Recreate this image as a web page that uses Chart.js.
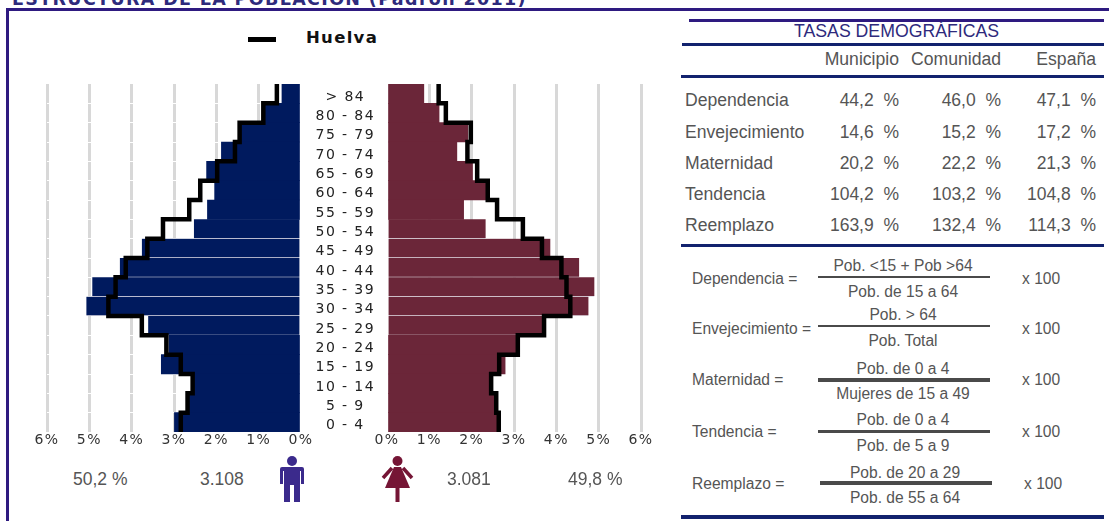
<!DOCTYPE html>
<html>
<head>
<meta charset="utf-8">
<script src="https://cdn.jsdelivr.net/npm/chart.js@4"></script>
<style>
  html, body { margin: 0; padding: 0; background: #fff; }
  #page { position: relative; width: 1109px; height: 521px; overflow: hidden; font-family: "Liberation Sans", Arial, sans-serif; color: #555; }
  #page div, #page svg, #page canvas { position: absolute; }
  .t { white-space: pre; line-height: 20px; height: 20px; }
  .r { text-align: right; }
  .c { text-align: center; }
</style>
</head>
<body>
<div id="page">
  <div class="t" style="left:12px;top:-11px;font:bold 17.5px 'DejaVu Sans';letter-spacing:1.35px;color:#2e2a7c;line-height:20px">ESTRUCTURA DE LA POBLACIÓN (Padrón 2011)</div>
  <div style="left:6px;top:8px;width:1103px;height:3px;background:#2e1a80"></div>
  <div style="left:6px;top:8px;width:3px;height:513px;background:#2e1a80"></div>

  <div style="left:248px;top:37px;width:28px;height:5px;background:#000"></div>
  <div class="t" style="left:306px;top:28px;font:bold 16.5px 'DejaVu Sans';letter-spacing:1.3px;color:#111;line-height:20px">Huelva</div>

  <div style="left:30px;top:64px;width:357px;height:388px"><canvas id="maleChart"></canvas></div>
  <div style="left:370px;top:64px;width:291px;height:388px"><canvas id="femaleChart"></canvas></div>

  <div class="t" style="left:73px;top:469px;font-size:17.5px">50,2 %</div>
  <div class="t" style="left:200px;top:469px;font-size:17.5px">3.108</div>
  <svg style="left:279px;top:456px" width="26" height="46" viewBox="0 0 26 46">
    <circle cx="13" cy="5" r="5" fill="#3b2a8c"/>
    <path d="M3 11h20a2 2 0 0 1 2 2v15h-3V15h-1v31h-6V29h-4v17H5V15H4v13H1V13a2 2 0 0 1 2-2z" fill="#3b2a8c"/>
  </svg>
  <svg style="left:381px;top:456px" width="34" height="46" viewBox="0 0 34 46">
    <circle cx="16.5" cy="5" r="5" fill="#751535"/>
    <path d="M11 12L2 22M22 12L31 22" stroke="#751535" stroke-width="3.5" fill="none"/>
    <path d="M13 11h7l9 21H4z" fill="#751535"/>
    <rect x="14.5" y="32" width="4" height="14" fill="#751535"/>
  </svg>
  <div class="t" style="left:447px;top:469px;font-size:17.5px">3.081</div>
  <div class="t" style="left:568px;top:469px;font-size:17.5px">49,8 %</div>

  <div style="left:689px;top:19px;width:415px;height:3px;background:#2e1a80"></div>
  <div style="left:682px;top:43px;width:422px;height:3px;background:#12226e"></div>
  <div style="left:681px;top:75px;width:423px;height:3px;background:#12226e"></div>
  <div style="left:681px;top:244px;width:423px;height:3px;background:#12226e"></div>
  <div style="left:681px;top:515px;width:423px;height:4px;background:#12226e"></div>
  <div class="t c" style="left:794px;width:200px;top:21px;font-size:17.7px;color:#2e2a7c">TASAS DEMOGRÁFICAS</div>
  <div id="rates"></div>
  <div id="formulas"></div>
</div>

<script>
const ageGroups = ["> 84", "80 - 84", "75 - 79", "70 - 74", "65 - 69", "60 - 64", "55 - 59", "50 - 54", "45 - 49",
    "40 - 44", "35 - 39", "30 - 34", "25 - 29", "20 - 24", "15 - 19", "10 - 14", "5 - 9", "0 - 4"];
const maleValues = [0.45, 0.86, 1.41, 1.88, 2.23, 2.04, 2.21, 2.53, 3.76, 4.28, 4.93, 5.07, 3.61, 3.12, 3.30, 2.55, 2.67, 2.99];
const femaleValues = [0.87, 1.23, 1.91, 1.65, 2.02, 2.34, 1.81, 2.33, 3.86, 4.54, 4.90, 4.76, 3.67, 3.06, 2.79, 2.44, 2.56, 2.60];
const huelvaMale = [0.57, 0.89, 1.45, 1.56, 1.98, 2.38, 2.64, 3.26, 3.63, 4.14, 4.38, 4.55, 3.76, 3.18, 2.84, 2.56, 2.68, 2.84];
const huelvaFemale = [1.22, 1.39, 1.98, 1.90, 2.13, 2.38, 2.60, 3.21, 3.66, 4.12, 4.24, 4.33, 3.71, 3.09, 2.65, 2.46, 2.58, 2.64];

const rateColumns = ["Municipio", "Comunidad", "España"];
const rateNames = ["Dependencia", "Envejecimiento", "Maternidad", "Tendencia", "Reemplazo"];
const rateMunicipio = ["44,2", "14,6", "20,2", "104,2", "163,9"];
const rateComunidad = ["46,0", "15,2", "22,2", "103,2", "132,4"];
const rateEspana = ["47,1", "17,2", "21,3", "104,8", "114,3"];

const formulaNames = ["Dependencia =", "Envejecimiento =", "Maternidad =", "Tendencia =", "Reemplazo ="];
const formulaTop = ["Pob. <15 + Pob >64", "Pob. > 64", "Pob. de 0 a 4", "Pob. de 0 a 4", "Pob. de 20 a 29"];
const formulaBottom = ["Pob. de 15 a 64", "Pob. Total", "Mujeres de 15 a 49", "Pob. de 5 a 9", "Pob. de 55 a 64"];

function addText(parent, text, css, cls) {
    const el = document.createElement("div");
    el.className = "t " + (cls || "");
    el.style.cssText = css;
    el.textContent = text;
    parent.appendChild(el);
}

// table on the right
const rates = document.getElementById("rates");
const colRight = [899, 1001, 1096];
colRight.forEach((right, i) => {
    addText(rates, rateColumns[i], `left:${right - 150}px;width:150px;top:49px;font-size:17.6px`, "r");
});
const rowY = [90, 122, 153, 184, 215];
rateNames.forEach((name, i) => {
    addText(rates, name, `left:685px;top:${rowY[i]}px;font-size:17.6px`);
    [rateMunicipio, rateComunidad, rateEspana].forEach((col, j) => {
        addText(rates, col[i] + "  %", `left:${colRight[j] - 120}px;width:120px;top:${rowY[i]}px;font-size:17.5px`, "r");
    });
});

// formulas
const formulas = document.getElementById("formulas");
const numY = [266, 315, 369, 420, 473];
const barY = [276, 325, 378, 430, 481];
const denY = [292, 341, 394, 446, 498];
const labelY = [279, 329, 380, 432, 484];
const barH = [2, 2, 4, 3, 4];
formulaNames.forEach((name, i) => {
    const dx = i === 4 ? 2 : 0;
    addText(formulas, name, `left:692px;top:${labelY[i] - 10}px;font-size:15.6px`);
    addText(formulas, formulaTop[i], `left:${803 + dx}px;width:200px;top:${numY[i] - 10}px;font-size:15.6px`, "c");
    addText(formulas, formulaBottom[i], `left:${803 + dx}px;width:200px;top:${denY[i] - 10}px;font-size:15.6px`, "c");
    addText(formulas, "x 100", `left:${1022 + dx}px;top:${labelY[i] - 10}px;font-size:15.6px`);
    const bar = document.createElement("div");
    bar.style.cssText = `left:${818 + dx}px;top:${barY[i]}px;width:172px;height:${barH[i]}px;background:#4a4a4a`;
    formulas.appendChild(bar);
});

// each value becomes a vertical run across its age band
function stepPoints(values) {
    const pts = [];
    values.forEach((v, i) => {
        pts.push({ x: v, y: i });
        pts.push({ x: v, y: i + 1 });
    });
    return pts;
}

const letterSpacing = {
    id: "letterSpacing",
    beforeDraw(chart) { chart.ctx.letterSpacing = "1.4px"; }
};

function pyramid(canvasId, values, huelva, color, isLeft) {
    return new Chart(document.getElementById(canvasId), {
        type: "bar",
        data: {
            labels: ageGroups,
            datasets: [{
                type: "line",
                indexAxis: "y",
                data: stepPoints(huelva),
                yAxisID: "yStep",
                borderColor: "#000",
                borderWidth: 4.5,
                borderJoinStyle: "miter",
                pointRadius: 0,
                order: 0
            }, {
                type: "bar",
                indexAxis: "y",
                data: values,
                yAxisID: "y",
                backgroundColor: color,
                borderColor: "#e4e2ea",
                borderSkipped: false,
                // pale rule under the wide bars only
                borderWidth: ctx => (ctx.dataIndex >= 7 && ctx.dataIndex <= 12 ? { top: 0, right: 0, bottom: 1, left: 0 } : 0),
                barPercentage: 1,
                categoryPercentage: 1,
                order: 1
            }]
        },
        plugins: [letterSpacing],
        options: {
            // horizontal is set per dataset: with 4.5 a chart level "y" splits the bars
            // into one slot for each y axis, and the line needs its own y axis
            indexAxis: "x",
            responsive: true,
            maintainAspectRatio: false,
            animation: false,
            layout: { padding: isLeft ? { left: 17, top: 20, bottom: 0 } : { left: 17, right: 20, top: 20, bottom: 0 } },
            plugins: { legend: { display: false }, tooltip: { enabled: false } },
            scales: {
                x: {
                    type: "linear",
                    offset: false,
                    reverse: isLeft,
                    min: 0,
                    max: 6,
                    border: { display: false },
                    grid: {
                        color: ctx => (ctx.tick.value === 0 ? "rgba(0,0,0,0)" : "#d8d8d8"),
                        lineWidth: 3,
                        drawTicks: false,
                        offset: false,
                        z: -2
                    },
                    ticks: {
                        stepSize: 1,
                        padding: 0,
                        color: "#333",
                        maxRotation: 0,
                        font: { family: "DejaVu Sans", size: 14 },
                        callback: v => v + "%"
                    },
                    afterFit(s) { s.paddingLeft = 0; s.paddingRight = 0; s.height = 20; }
                },
                y: {
                    type: "category",
                    offset: true,
                    display: isLeft ? true : false,
                    position: "right",
                    border: { display: false },
                    grid: { color: "#ffffff", lineWidth: 1, drawTicks: false, offset: true, z: -1 },
                    ticks: {
                        autoSkip: false,
                        padding: 19.5,
                        labelOffset: 3.5,
                        crossAlign: "center",
                        color: "#222",
                        font: { family: "DejaVu Sans", size: 14 }
                    },
                    afterFit(s) { s.paddingTop = 0; s.paddingBottom = 0; if (isLeft) s.width = 86; }
                },
                yStep: { type: "linear", display: false, offset: false, reverse: true, min: 0, max: ageGroups.length }
            }
        }
    });
}

pyramid("maleChart", maleValues, huelvaMale, "#001a5e", true);
pyramid("femaleChart", femaleValues, huelvaFemale, "#6b2639", false);
</script>
</body>
</html>
